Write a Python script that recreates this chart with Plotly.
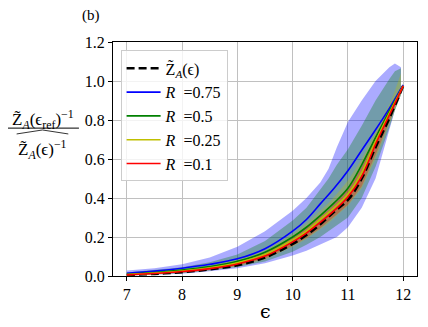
import plotly.graph_objects as go

# epsilon grid for the mean curves
eps = [7.0, 7.5, 8.0, 8.5, 9.0, 9.5, 10.0, 10.25, 10.5, 10.75, 11.0, 11.25, 11.5, 11.75, 12.0]

z_ref = [0.005, 0.011, 0.020, 0.034, 0.055, 0.095, 0.165, 0.21, 0.265, 0.33, 0.39, 0.50, 0.66, 0.81, 0.975]
r075 = [0.014, 0.025, 0.040, 0.060, 0.088, 0.140, 0.230, 0.29, 0.37, 0.45, 0.54, 0.645, 0.75, 0.86, 0.98]
r050 = [0.009, 0.018, 0.030, 0.048, 0.075, 0.122, 0.200, 0.25, 0.31, 0.375, 0.45, 0.57, 0.71, 0.845, 0.975]
r025 = [0.007, 0.015, 0.026, 0.042, 0.068, 0.110, 0.185, 0.23, 0.29, 0.35, 0.42, 0.53, 0.69, 0.835, 0.975]
r010 = [0.006, 0.013, 0.023, 0.038, 0.062, 0.102, 0.175, 0.22, 0.275, 0.335, 0.405, 0.51, 0.675, 0.825, 0.975]

# epsilon grid for the spread bands
eps_band = [7.0, 7.5, 8.0, 8.5, 9.0, 9.5, 10.0, 10.25, 10.5, 10.65, 10.8, 11.0, 11.25, 11.5, 11.75, 11.85, 11.96]

hi075 = [0.028, 0.040, 0.060, 0.095, 0.150, 0.230, 0.335, 0.40, 0.48, 0.55, 0.66, 0.79, 0.90, 1.00, 1.07, 1.09, 1.07]
lo075 = [0.002, 0.006, 0.012, 0.024, 0.040, 0.065, 0.105, 0.13, 0.16, 0.18, 0.20, 0.25, 0.35, 0.50, 0.75, 0.85, 0.93]
hi050 = [0.018, 0.030, 0.045, 0.070, 0.110, 0.180, 0.285, 0.35, 0.44, 0.50, 0.57, 0.65, 0.77, 0.90, 1.01, 1.05, 1.065]
lo050 = [0.003, 0.008, 0.015, 0.028, 0.046, 0.075, 0.125, 0.16, 0.20, 0.23, 0.26, 0.30, 0.40, 0.56, 0.76, 0.85, 0.93]
hi025 = [0.010, 0.020, 0.033, 0.052, 0.082, 0.130, 0.215, 0.27, 0.335, 0.375, 0.42, 0.49, 0.60, 0.74, 0.88, 0.95, 1.04]
lo025 = [0.004, 0.009, 0.017, 0.030, 0.050, 0.085, 0.150, 0.19, 0.24, 0.27, 0.31, 0.36, 0.45, 0.60, 0.78, 0.85, 0.93]
hi010 = [0.008, 0.016, 0.028, 0.045, 0.072, 0.117, 0.195, 0.245, 0.305, 0.34, 0.385, 0.445, 0.56, 0.72, 0.86, 0.91, 0.97]
lo010 = [0.004, 0.010, 0.018, 0.031, 0.052, 0.088, 0.155, 0.195, 0.245, 0.28, 0.315, 0.365, 0.46, 0.62, 0.79, 0.87, 0.94]

x_ticks = [7, 8, 9, 10, 11, 12]
y_ticks = [0.0, 0.2, 0.4, 0.6, 0.8, 1.0, 1.2]

SERIF = "Liberation Serif"

fig = go.Figure()

# spread bands first
bands = [
    (hi075, lo075, "rgba(0,0,255,0.33)"),
    (hi050, lo050, "rgba(0,128,0,0.33)"),
    (hi025, lo025, "rgba(191,191,0,0.3)"),
    (hi010, lo010, "rgba(255,0,0,0.3)"),
]
for hi, lo, col in bands:
    fig.add_trace(go.Scatter(
        x=eps_band + eps_band[::-1], y=hi + lo[::-1],
        fill="toself", fillcolor=col, line=dict(width=0),
        mode="lines", showlegend=False, hoverinfo="skip"
    ))

# reference curve + means
fig.add_trace(go.Scatter(
    x=eps, y=z_ref, name="Z\u0303<sub><i>A</i></sub>(\u03f5)", mode="lines",
    line=dict(color="black", width=2.6, dash="8px,4px"), line_shape="spline",
    legendgroup="a"
))
lines = [
    (r075, "blue", "<i>R</i>  =0.75", "b"),
    (r050, "green", "<i>R</i>  =0.5", "c"),
    (r025, "#bfbf00", "<i>R</i>  =0.25", "d"),
    (r010, "red", "<i>R</i>  =0.1", "e"),
]
for ys, col, nm, grp in lines:
    fig.add_trace(go.Scatter(
        x=eps, y=ys, name=nm, mode="lines", line=dict(color=col, width=1.6),
        line_shape="spline", legendgroup=grp
    ))

axis_style = dict(
    showline=True, linecolor="black", linewidth=1, mirror=True,
    ticks="outside", ticklen=4, tickcolor="black", automargin=False,
    showgrid=True, gridcolor="#c0c0c0", gridwidth=1.2, zeroline=False,
    tickfont=dict(family=SERIF, size=16, color="black"),
)

# page adds an 8px body margin, so the figure is 8px smaller on each side
fig.update_layout(
    width=420, height=319, autosize=False,
    margin=dict(l=105, r=11, t=34, b=51, autoexpand=False),
    paper_bgcolor="white", plot_bgcolor="white",
    font=dict(family=SERIF, color="black"),
    showlegend=True,
    legend=dict(
        x=0.025, y=0.964, xanchor="left", yanchor="top",
        bgcolor="rgba(255,255,255,0.8)", bordercolor="#cccccc", borderwidth=1,
        font=dict(family=SERIF, size=16, color="black"),
        traceorder="grouped", tracegroupgap=0, itemwidth=34,
    ),
    xaxis=dict(range=[6.75, 12.25], tickvals=x_ticks, **axis_style),
    yaxis=dict(range=[0, 1.2], tickvals=y_ticks, tickformat=".1f", **axis_style),
)

# panel label
fig.add_annotation(text="(b)", xref="paper", yref="paper", x=-0.072, y=1.114,
                   xanchor="center", yanchor="middle",
                   showarrow=False, font=dict(family=SERIF, size=15))
# x label
fig.add_annotation(text="\u03f5", xref="paper", yref="paper", x=0.5, y=-0.15,
                   xanchor="center", yanchor="middle",
                   showarrow=False, font=dict(family="DejaVu Serif", size=19))
# y label as a fraction
fig.add_annotation(text="Z\u0303<sub><i>A</i></sub>(\u03f5<sub>ref</sub>)<sup>\u22121</sup>",
                   xref="paper", yref="paper", x=-0.231, y=0.668,
                   xanchor="center", yanchor="middle",
                   showarrow=False, font=dict(family=SERIF, size=17))
fig.add_annotation(text="Z\u0303<sub><i>A</i></sub>(\u03f5)<sup>\u22121</sup>",
                   xref="paper", yref="paper", x=-0.232, y=0.540,
                   xanchor="center", yanchor="middle",
                   showarrow=False, font=dict(family=SERIF, size=17))
fig.add_shape(type="line", xref="paper", yref="paper",
              x0=-0.349, x1=-0.112, y0=0.632, y1=0.632,
              line=dict(color="black", width=1))
fig.add_shape(type="path", xref="paper", yref="paper",
              path="M -0.317 0.607 L -0.232 0.624 L -0.147 0.607",
              line=dict(color="black", width=0.8))

fig.write_html("out.html")
